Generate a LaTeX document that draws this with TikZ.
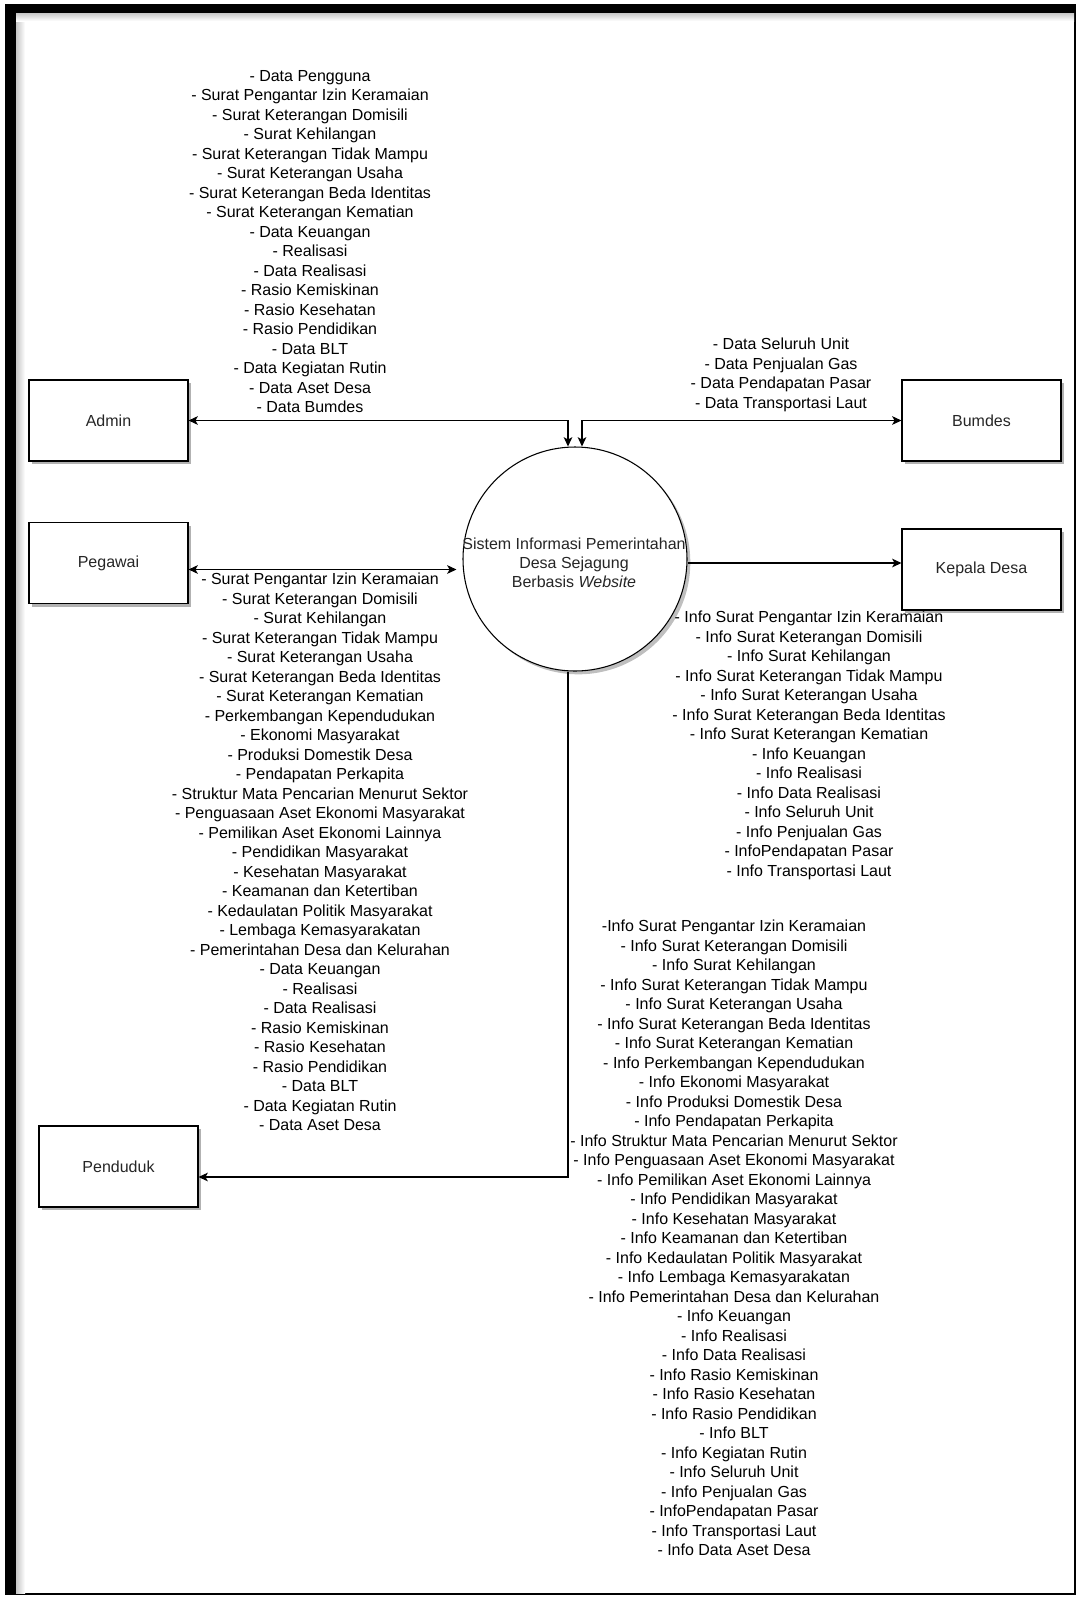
\documentclass[tikz,border=0pt]{standalone}
\usepackage{fontspec}
\setmainfont{Liberation Sans}
\usetikzlibrary{arrows.meta,shadows}
\newcommand\dfdfont{\fontsize{12}{14.625}\selectfont}
\newcommand\dfdfontc{\fontsize{12}{14.25}\selectfont}
\begin{document}
\begin{tikzpicture}[x=0.75pt,y=-0.75pt,
  ent/.style={draw=black, line width=0.8pt, fill=white, minimum width=119.25pt,
    minimum height=60.75pt, inner sep=0pt, text=black!85,
    drop shadow={shadow xshift=2.5pt, shadow yshift=-2.5pt, fill=black, opacity=0.3},
    font=\dfdfont},
  lst/.style={align=center, inner sep=0pt, anchor=north, font=\dfdfont, text=black},
  tipA/.tip={Stealth[length=7pt,width=6.5pt,inset=1.8pt]},
  flow/.style={line width=0.9pt, draw=black, -tipA},
  bi/.style={line width=0.9pt, draw=black, tipA-tipA}]
\useasboundingbox (0,0) rectangle (1078,1597);
% frame
\fill[black] (5,4) rectangle (1076,1595);
\fill[white] (16,13) rectangle (1074,1593);
\shade[left color=gray!45, right color=white] (16,13) rectangle (25,1593);
\shade[top color=gray!45, bottom color=white] (16,13) rectangle (1074,21);

% entities
\node[ent] (adm) at (108.5,420.5) {Admin};
\node[ent] (peg) at (108.5,563) {Pegawai};
\node[ent] (bum) at (981.5,420.5) {Bumdes};
\node[ent] (kep) at (981.5,569.5) {Kepala Desa};
\node[ent] (pen) at (118.5,1166.5) {Penduduk};

% process
\node[circle, draw=black, line width=0.8pt, fill=white, minimum size=168pt, inner sep=0pt,
  drop shadow={shadow xshift=2.5pt, shadow yshift=-2.5pt, fill=black, opacity=0.25}] (sys) at (575,559) {};
\node[align=center, inner sep=0pt, anchor=north, font=\dfdfontc, text=black!85] (systext) at (574,538)
  {Sistem Informasi Pemerintahan\\Desa Sejagung\\Berbasis \textit{Website}};

% connectors
\draw[bi] (adm.east) -| ([xshift=-5.25pt]sys.north);
\draw[bi] (bum.west) -| ([xshift=5.25pt]sys.north);
\coordinate (pegA) at ([yshift=-4.875pt]peg.east);
\draw[bi] (pegA) -- ([xshift=-4.5pt]pegA -| sys.west);
\coordinate (kepA) at ([yshift=-3pt]sys.east);
\draw[flow] (kepA) -- (kepA -| kep.west);
\draw[flow] ([xshift=-5.25pt]sys.south) |- ([yshift=-7.875pt]pen.east);

% labels
\node[lst] (ladm) at (310,70) {- Data Pengguna\\- Surat Pengantar Izin Keramaian\\- Surat Keterangan Domisili\\- Surat Kehilangan\\- Surat Keterangan Tidak Mampu\\- Surat Keterangan Usaha\\- Surat Keterangan Beda Identitas\\- Surat Keterangan Kematian\\- Data Keuangan\\- Realisasi\\- Data Realisasi\\- Rasio Kemiskinan\\- Rasio Kesehatan\\- Rasio Pendidikan\\- Data BLT\\- Data Kegiatan Rutin\\- Data Aset Desa\\- Data Bumdes};

\node[lst] (lbum) at (781,338) {- Data Seluruh Unit\\- Data Penjualan Gas\\- Data Pendapatan Pasar\\- Data Transportasi Laut};

\node[lst] (lpeg) at (320,573) {- Surat Pengantar Izin Keramaian\\- Surat Keterangan Domisili\\- Surat Kehilangan\\- Surat Keterangan Tidak Mampu\\- Surat Keterangan Usaha\\- Surat Keterangan Beda Identitas\\- Surat Keterangan Kematian\\- Perkembangan Kependudukan\\- Ekonomi Masyarakat\\- Produksi Domestik Desa\\- Pendapatan Perkapita\\- Struktur Mata Pencarian Menurut Sektor\\- Penguasaan Aset Ekonomi Masyarakat\\- Pemilikan Aset Ekonomi Lainnya\\- Pendidikan Masyarakat\\- Kesehatan Masyarakat\\- Keamanan dan Ketertiban\\- Kedaulatan Politik Masyarakat\\- Lembaga Kemasyarakatan\\- Pemerintahan Desa dan Kelurahan\\- Data Keuangan\\- Realisasi\\- Data Realisasi\\- Rasio Kemiskinan\\- Rasio Kesehatan\\- Rasio Pendidikan\\- Data BLT\\- Data Kegiatan Rutin\\- Data Aset Desa};

\node[lst] (lkep) at (809,611) {- Info Surat Pengantar Izin Keramaian\\- Info Surat Keterangan Domisili\\- Info Surat Kehilangan\\- Info Surat Keterangan Tidak Mampu\\- Info Surat Keterangan Usaha\\- Info Surat Keterangan Beda Identitas\\- Info Surat Keterangan Kematian\\- Info Keuangan\\- Info Realisasi\\- Info Data Realisasi\\- Info Seluruh Unit\\- Info Penjualan Gas\\- InfoPendapatan Pasar\\- Info Transportasi Laut};

\node[lst] (lpen) at (734,920) {-Info Surat Pengantar Izin Keramaian\\- Info Surat Keterangan Domisili\\- Info Surat Kehilangan\\- Info Surat Keterangan Tidak Mampu\\- Info Surat Keterangan Usaha\\- Info Surat Keterangan Beda Identitas\\- Info Surat Keterangan Kematian\\- Info Perkembangan Kependudukan\\- Info Ekonomi Masyarakat\\- Info Produksi Domestik Desa\\- Info Pendapatan Perkapita\\- Info Struktur Mata Pencarian Menurut Sektor\\- Info Penguasaan Aset Ekonomi Masyarakat\\- Info Pemilikan Aset Ekonomi Lainnya\\- Info Pendidikan Masyarakat\\- Info Kesehatan Masyarakat\\- Info Keamanan dan Ketertiban\\- Info Kedaulatan Politik Masyarakat\\- Info Lembaga Kemasyarakatan\\- Info Pemerintahan Desa dan Kelurahan\\- Info Keuangan\\- Info Realisasi\\- Info Data Realisasi\\- Info Rasio Kemiskinan\\- Info Rasio Kesehatan\\- Info Rasio Pendidikan\\- Info BLT\\- Info Kegiatan Rutin\\- Info Seluruh Unit\\- Info Penjualan Gas\\- InfoPendapatan Pasar\\- Info Transportasi Laut\\- Info Data Aset Desa};
\end{tikzpicture}
\end{document}
